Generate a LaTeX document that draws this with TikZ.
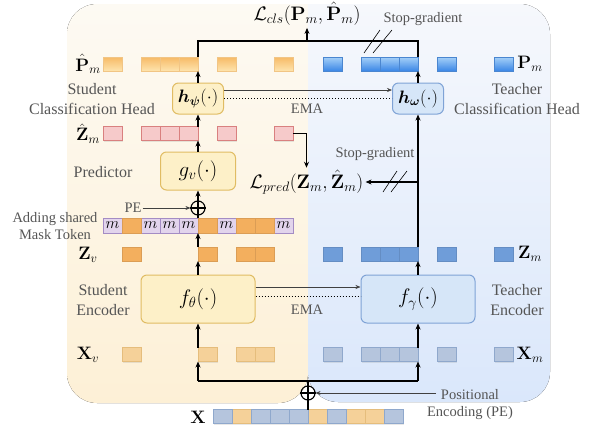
\documentclass[tikz,border=0pt]{standalone}
\usepackage{fix-cm}
\usepackage{amsmath}
\usepackage{bm}
\usepackage[no-math]{fontspec}
\setmainfont{Liberation Serif}
\usetikzlibrary{arrows.meta,shadows}
\definecolor{stuTop}{HTML}{FDFAF3}
\definecolor{stuBot}{HTML}{FDF0D6}
\definecolor{teaTop}{HTML}{F6F8FC}
\definecolor{teaBot}{HTML}{DAE7FB}
\definecolor{stuFill}{HTML}{FDF0C8}
\definecolor{stuBorder}{HTML}{E0BC63}
\definecolor{teaFill}{HTML}{D6E6F8}
\definecolor{teaBorder}{HTML}{7FA3D6}
\definecolor{lblgray}{HTML}{555555}
\definecolor{phTop}{HTML}{F7BA66}
\definecolor{phBot}{HTML}{FEE4AE}
\definecolor{phBorder}{HTML}{F1C585}
\definecolor{ptTop}{HTML}{A5D0F8}
\definecolor{ptBot}{HTML}{3A86E6}
\definecolor{ptBorder}{HTML}{4A86D0}
\definecolor{zhFill}{HTML}{F6CACA}
\definecolor{zhBorder}{HTML}{D9807F}
\definecolor{zvFill}{HTML}{F3AF5E}
\definecolor{zmFill}{HTML}{6F9DD9}
\definecolor{xvFill}{HTML}{F5D199}
\definecolor{xvBorder}{HTML}{E5BD7C}
\definecolor{xmFill}{HTML}{B5C5DD}
\definecolor{xmBorder}{HTML}{8FA8CC}
\definecolor{mkFill}{HTML}{E2D4EC}
\definecolor{mkBorder}{HTML}{A48CC4}
\begin{document}
\begin{tikzpicture}[x=1pt,y=-1pt,
  lbl/.style={text=lblgray, font=\fontsize{16}{20}\selectfont, align=center, inner sep=1pt},
  slbl/.style={text=lblgray, font=\fontsize{14.5}{17}\selectfont, align=center, inner sep=1pt},
  mlbl/.style={font=\fontsize{18}{20}\selectfont, inner sep=1pt},
  tok/.style={minimum width=19pt, minimum height=14pt, inner sep=0pt, outer sep=0pt, line width=0.5pt,
    drop shadow={opacity=0.18, shadow xshift=1pt, shadow yshift=-1pt}},
  phtok/.style={tok, draw=phBorder, top color=phTop, bottom color=phBot},
  pttok/.style={tok, draw=ptBorder, top color=ptTop, bottom color=ptBot},
  zhtok/.style={tok, draw=zhBorder, fill=zhFill},
  zvtok/.style={tok, draw=zvFill!90!black, fill=zvFill},
  zmtok/.style={tok, draw=zmFill!90!black, fill=zmFill},
  xvtok/.style={tok, draw=xvBorder, fill=xvFill},
  xmtok/.style={tok, draw=xmBorder, fill=xmFill},
  mktok/.style={tok, minimum height=15pt, draw=mkBorder, fill=mkFill, font=\fontsize{16}{16}\selectfont},
  mvtok/.style={tok, minimum height=15pt, draw=zvFill!90!black, fill=zvFill},
  stubox/.style={draw=stuBorder, fill=stuFill, line width=1pt, rounded corners=6pt, inner sep=0pt,
    font=\fontsize{18}{20}\selectfont},
  teabox/.style={draw=teaBorder, fill=teaFill, line width=1pt, rounded corners=6pt, inner sep=0pt,
    font=\fontsize{18}{20}\selectfont},
  bigmath/.style={font=\fontsize{21}{22}\selectfont},
  arr/.style={-{Stealth[length=6pt,width=5pt]}, line width=1.1pt},
  line/.style={line width=1.1pt},
  thinarr/.style={-{Stealth[length=5pt,width=4pt]}, line width=0.6pt, draw=black!75},
  dotline/.style={line width=1pt, dotted},
  plusc/.style={circle, draw, line width=1.1pt, minimum size=14pt, inner sep=0pt}
]
\useasboundingbox (0,0) rectangle (595,429);
% panels
\fill[top color=stuTop, bottom color=stuBot] (190,4) [rounded corners=30pt] -- (67,4) -- (67,403) -- (308,403) [sharp corners] -- (308,4) -- cycle;
\fill[top color=teaTop, bottom color=teaBot] (430,4) [rounded corners=30pt] -- (550,4) -- (550,402) -- (308,402) [sharp corners] -- (308,4) -- cycle;

% token rows
\foreach \i in {0,2,3,4,6,9} {
  \node[phtok] (PH-\i) at ({112.5+19*\i},64) {};
  \node[pttok] (PT-\i) at ({332.5+19*\i},64) {};
  \node[zhtok] (ZH-\i) at ({112.5+19*\i},133.5) {};
  \node[zmtok] (ZM-\i) at ({332.5+19*\i},254) {};
  \node[xmtok] (XM-\i) at ({332.5+19*\i},354.5) {};
  \node[mktok] (MK-\i) at ({112.5+19*\i},225.5) {$m$};
}
\foreach \i in {1,5,7,8} {
  \node[mvtok] (MK-\i) at ({112.5+19*\i},225.5) {};
  \node[zvtok] (ZV-\i) at ({112.5+19*\i},254) {};
  \node[xvtok] (XV-\i) at ({112.5+19*\i},354.5) {};
  \node[xvtok] (X-\i) at ({222.5+19*\i},416.5) {};
}
\foreach \i in {0,2,3,4,6,9} {
  \node[xmtok] (X-\i) at ({222.5+19*\i},416.5) {};
}

% boxes
\node[stubox, minimum width=51pt, minimum height=31pt] (hpsi) at (198,98.5) {$\bm{h}_{\bm{\psi}}(\cdot)$};
\node[teabox, minimum width=51pt, minimum height=31pt] (homega) at (418,98.5) {$\bm{h}_{\bm{\omega}}(\cdot)$};
\node[stubox, bigmath, minimum width=75pt, minimum height=38pt] (gv) at (198,171) {$g_v(\cdot)$};
\node[stubox, bigmath, minimum width=114pt, minimum height=48pt] (ftheta) at (198,299) {$f_\theta(\cdot)$};
\node[teabox, bigmath, minimum width=114pt, minimum height=48pt] (fgamma) at (418,299) {$f_\gamma(\cdot)$};
\node[plusc] (plus) at (198,208) {};
\draw[line width=1.1pt] (plus.north) -- (plus.south) (plus.west) -- (plus.east);
\node[plusc] (bplus) at (308,393) {};
\draw[line width=1.1pt] (bplus.north) -- (bplus.south) (bplus.west) -- (bplus.east);

% loss nodes
\node[font=\fontsize{19.5}{20}\selectfont, inner sep=2pt] (Lcls) at (307,14) {$\mathcal{L}_{cls}(\mathbf{P}_m,\hat{\mathbf{P}}_m)$};
\node[font=\fontsize{19.5}{20}\selectfont, inner sep=2pt] (Lpred) at (306.5,182) {$\mathcal{L}_{pred}(\mathbf{Z}_m,\hat{\mathbf{Z}}_m)$};

% labels
\node[mlbl] (lPH) at (88,64) {$\hat{\mathbf{P}}_m$};
\node[mlbl] (lZH) at (88,133.5) {$\hat{\mathbf{Z}}_m$};
\node[mlbl] (lZV) at (88,255) {$\mathbf{Z}_v$};
\node[mlbl] (lXV) at (88,355) {$\mathbf{X}_v$};
\node[mlbl] (lX) at (198,417) {$\mathbf{X}$};
\node[mlbl] (lPT) at (530,64) {$\mathbf{P}_m$};
\node[mlbl] (lZM) at (530,254) {$\mathbf{Z}_m$};
\node[mlbl] (lXM) at (530,355) {$\mathbf{X}_m$};
\node[lbl] (tSCH) at (92,99) {Student\\Classification Head};
\node[lbl] (tTCH) at (517,99) {Teacher\\Classification Head};
\node[lbl] (tPred) at (103,172) {Predictor};
\node[lbl] (tSE) at (103,300) {Student\\Encoder};
\node[lbl] (tTE) at (517,300) {Teacher\\Encoder};
\node[slbl] (tMask) at (55,226.5) {Adding shared\\Mask Token};
\node[slbl] (tPE) at (133,208) {PE};
\node[slbl] (tPos) at (470,405) {Positional\\Encoding (PE)};
\node[slbl] (tEMA1) at (307,109) {EMA};
\node[slbl] (tEMA2) at (307,310) {EMA};
\node[slbl] (tSG1) at (423,19) {Stop-gradient};
\node[slbl] (tSG2) at (375,154) {Stop-gradient};

\coordinate (topc) at (0,41);
\coordinate (bl) at (198,381);
\coordinate (br) at (418,381);
\coordinate (peStart) at (436,393);

% student column
\draw[arr] (XV-5.north west) -- (ftheta.south);
\draw[arr] (ftheta.north) -- (ZV-5.south west);
\draw[arr] (ZV-5.north west) -- (MK-4.south east);
\draw[line] (MK-4.north east) -- (plus.south);
\draw[arr] (plus.north) -- (gv.south);
\draw[arr] (gv.north) -- (ZH-4.south east);
\draw[arr] (ZH-4.north east) -- (hpsi.south);
\draw[arr] (hpsi.north) -- (PH-4.south east);
% teacher column
\draw[arr] (XM-4.north east) -- (fgamma.south);
\draw[arr] (fgamma.north) -- (ZM-4.south east);
\draw[arr] (ZM-4.north east) -- (homega.south);
\draw[arr] (homega.north) -- (PT-4.south east);
% top loss
\draw[line] (PH-4.north east) |- (PT-4.north east |- topc) -- (PT-4.north east);
\draw[arr] (Lcls.south |- topc) -- (Lcls.south);
\draw[line width=0.6pt] (364,53) -- (380,30) (373,53) -- (392,30);
% pred loss
\draw[arr] (ZH-9.east) -| (Lpred.north);
\draw[arr] (ZM-4.north east |- Lpred.east) -- (Lpred.east);
\draw[line width=0.6pt] (383,192) -- (397,171) (391,192) -- (407,171);
% EMA
\draw[thinarr] ([yshift=8.5pt]hpsi.east) -- ([yshift=8.5pt]homega.west);
\draw[dotline] (hpsi.east) -- (homega.west);
\draw[thinarr] ([yshift=12pt]ftheta.east) -- ([yshift=12pt]fgamma.west);
\draw[dotline] ([yshift=3pt]ftheta.east) -- ([yshift=3pt]fgamma.west);
% PE
\draw[thinarr] (tPE.east) -- (plus.west);
\draw[thinarr] (peStart) -- (bplus.east);
% bottom split
\draw[line] (X-4.north east) -- (bplus.south);
\draw[line] (bplus.north) -- (bplus.north |- bl);
\draw[line] (bl) -- (br);
\draw[arr] (bl) -- (XV-5.south west);
\draw[arr] (br) -- (XM-4.south east);
\end{tikzpicture}
\end{document}
